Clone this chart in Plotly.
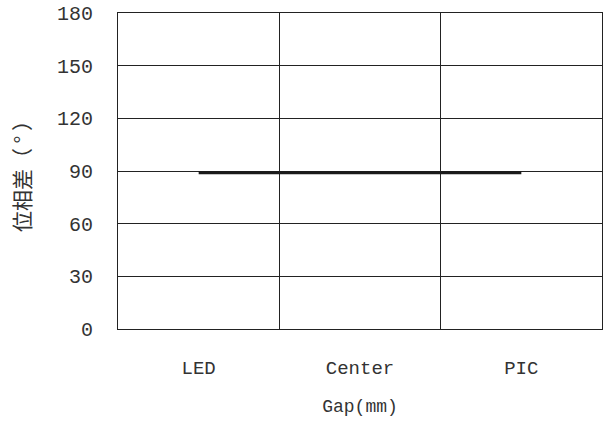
import plotly.graph_objects as go

categories = ["LED", "Center", "PIC"]
phase_diff = [89, 89, 89]
y_ticks = [0, 30, 60, 90, 120, 150, 180]

fig = go.Figure()
fig.add_trace(go.Scatter(
    x=categories, y=phase_diff, mode="lines",
    line=dict(color="#1a1a1a", width=3), showlegend=False,
))

mono = "Liberation Mono, DejaVu Sans Mono, monospace"
cjk = "Noto Sans CJK JP, sans-serif"
fig.update_layout(
    width=608, height=425,
    margin=dict(l=118, r=6, t=13, b=96),
    paper_bgcolor="white", plot_bgcolor="white",
    font=dict(family=mono, size=18, color="#333"),
    xaxis=dict(
        type="category", tickson="boundaries",
        range=[-0.5, 2.5], automargin=False,
        showgrid=True, gridcolor="#222", gridwidth=1,
        showline=True, linecolor="#222", linewidth=1, mirror=True,
        ticks="", ticklabelstandoff=21,
        tickfont=dict(family=mono, size=19, color="#333"),
        title=dict(text="Gap(mm)", font=dict(family=mono, size=18, color="#333"), standoff=20),
        zeroline=False,
    ),
    yaxis=dict(
        range=[0, 180], tickvals=y_ticks, automargin=False,
        ticklabeloverflow="allow",
        showgrid=True, gridcolor="#222", gridwidth=1,
        showline=True, linecolor="#222", linewidth=1, mirror=True,
        ticks="", ticklabelstandoff=20,
        tickfont=dict(family=mono, size=20, color="#333"),
        title=dict(text="\u00a0\u00a0\u00a0位相差（ ° ）", font=dict(family=cjk, size=21, color="#333"), standoff=20),
        zeroline=False,
    ),
)

# remove the default 8px page margin so the figure fills the window exactly
fig.write_html(
    "out.html",
    config={"displayModeBar": False},
    post_script="document.body.style.margin='0';document.body.style.overflow='hidden';",
)
